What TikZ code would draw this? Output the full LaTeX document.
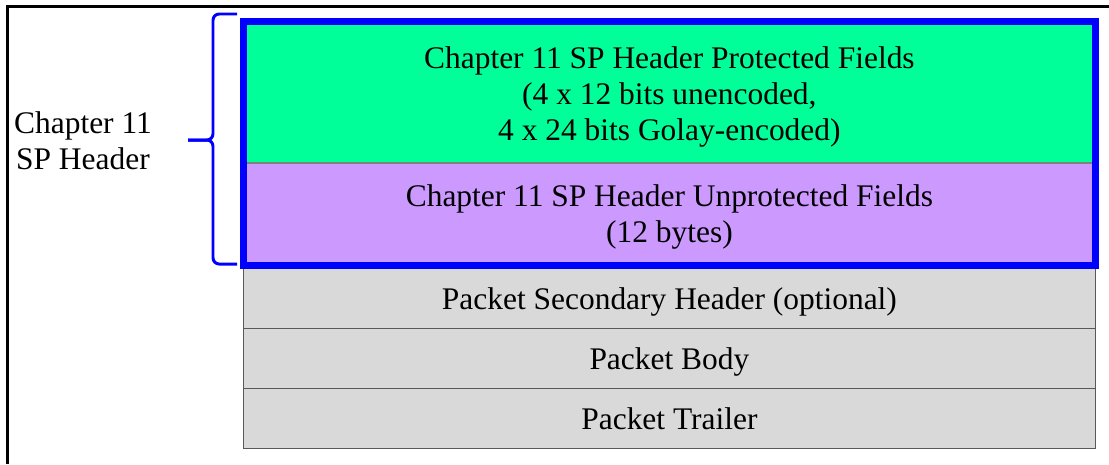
\documentclass[tikz,border=0pt]{standalone}
\usepackage{fontspec}
\setmainfont{Liberation Serif}
\usepackage{tikz}
\usetikzlibrary{positioning}
\definecolor{protgreen}{RGB}{0,255,153}
\definecolor{unprotviolet}{RGB}{204,153,255}
\definecolor{pktgray}{RGB}{217,217,217}
\definecolor{hdrblue}{RGB}{0,0,255}
\newcommand{\topgap}[1]{\rule{0pt}{#1}}

\begin{document}
\begin{tikzpicture}[x=0.02cm,y=-0.02cm,
		txt/.style={align=center,font=\fontsize{17.9}{20.5}\selectfont},
		field/.style={txt,minimum width=17.04cm,inner sep=0pt,outer sep=0pt},
		pkt/.style={field,fill=pktgray,draw=black!65,line width=0.6pt,minimum height=1.2cm,
			text height=15.6pt,text depth=3.9pt}]
	\useasboundingbox (0,0) rectangle (1109,464);
	% frame
	\draw[line width=1.7pt] (7.5,464) -- (7.5,6.5) -- (1109,6.5);
	% header fields
	\node[field,fill=protgreen,minimum height=2.83cm,anchor=north west] (prot) at (243.5,21.5)
		{\topgap{17.8pt}Chapter 11 SP Header Protected Fields\\(4 x 12 bits unencoded,\\4 x 24 bits Golay-encoded)};
	\node[field,fill=unprotviolet,minimum height=2.05cm,below=0pt of prot] (unprot)
		{\topgap{15.6pt}Chapter 11 SP Header Unprotected Fields\\(12 bytes)};
	\draw[gray,line width=0.6pt] (prot.south west) -- (prot.south east);
	% packet parts
	\node[pkt,below=0.07cm of unprot] (sec) {Packet Secondary Header (optional)};
	\node[pkt,below=0pt of sec] (body) {Packet Body};
	\node[pkt,below=0pt of body] (trail) {Packet Trailer};
	% header outline
	\draw[hdrblue,line width=4pt] (prot.north west) rectangle (unprot.south east);
	% brace and label
	\draw[hdrblue,line width=1.7pt,rounded corners=3.5pt] (237,14) -- (213,14) -- (213,140) -- (188,140);
	\draw[hdrblue,line width=1.7pt,rounded corners=3.5pt] (237,264) -- (213,264) -- (213,140) -- (188,140);
	\node[txt] (hdrlbl) at (83,141) {Chapter 11\\SP Header};
\end{tikzpicture}
\end{document}
